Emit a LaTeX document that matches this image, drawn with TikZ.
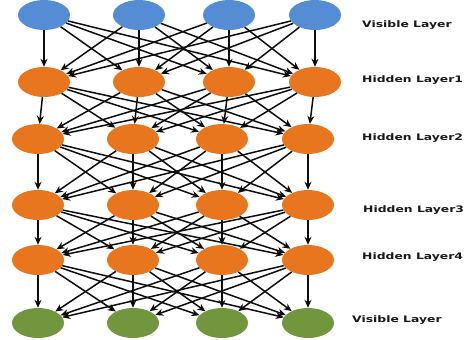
\documentclass[tikz,border=0pt]{standalone}
\usepackage{fontspec}
\usepackage{tikz}
\usetikzlibrary{arrows.meta, shapes.geometric}
\newfontfamily\layerfont[FakeStretch=1.38]{DejaVu Sans Bold}
\definecolor{visblue}{RGB}{84, 141, 212}
\definecolor{hidorange}{RGB}{232, 118, 30}
\definecolor{outgreen}{RGB}{114, 150, 62}

\begin{document}
\begin{tikzpicture}[
    x=1bp, y=-1bp,
    unit/.style={ellipse, minimum width=52bp, minimum height=30bp, inner sep=0pt},
    visnode/.style={unit, fill=visblue},
    hidnode/.style={unit, fill=hidorange},
    outnode/.style={unit, fill=outgreen},
    arrow/.style={-{Stealth[length=8bp, width=7bp]}, line width=1.5bp, black!95},
    lbl/.style={anchor=west, inner sep=0pt, text=black!90,
                font=\layerfont\fontsize{9}{10}\selectfont},
  ]
    \useasboundingbox (0,0) rectangle (468,339);

    % Visible layer (top)
    \foreach \c/\x in {1/44, 2/139, 3/229, 4/315}
      \node[visnode] (n-1-\c) at (\x,15) {};

    % Hidden layers
    \foreach \c/\x in {1/44, 2/139, 3/229, 4/315}
      \node[hidnode] (n-2-\c) at (\x,82) {};
    \foreach \r/\y in {3/139, 4/205, 5/260}
      \foreach \c/\x in {1/38, 2/133, 3/222, 4/308}
        \node[hidnode] (n-\r-\c) at (\x,\y) {};

    % Visible layer (bottom)
    \foreach \c/\x in {1/38, 2/133, 3/222, 4/308}
      \node[outnode] (n-6-\c) at (\x,323) {};

    % Arrows between consecutive layers
    \foreach \r [evaluate=\r as \s using int(\r+1)] in {1,...,5}
      \foreach \a in {1,...,4}
        \foreach \b in {1,...,4}
          \draw[arrow] (n-\r-\a) -- (n-\s-\b);

    % Layer names
    \node[lbl] (t1) at (362,25) {Visible Layer};
    \node[lbl] (t2) at (362,80) {Hidden Layer1};
    \node[lbl] (t3) at (362,138) {Hidden Layer2};
    \node[lbl] (t4) at (363,210) {Hidden Layer3};
    \node[lbl] (t5) at (362,257) {Hidden Layer4};
    \node[lbl] (t6) at (352,320) {Visible Layer};
\end{tikzpicture}
\end{document}
